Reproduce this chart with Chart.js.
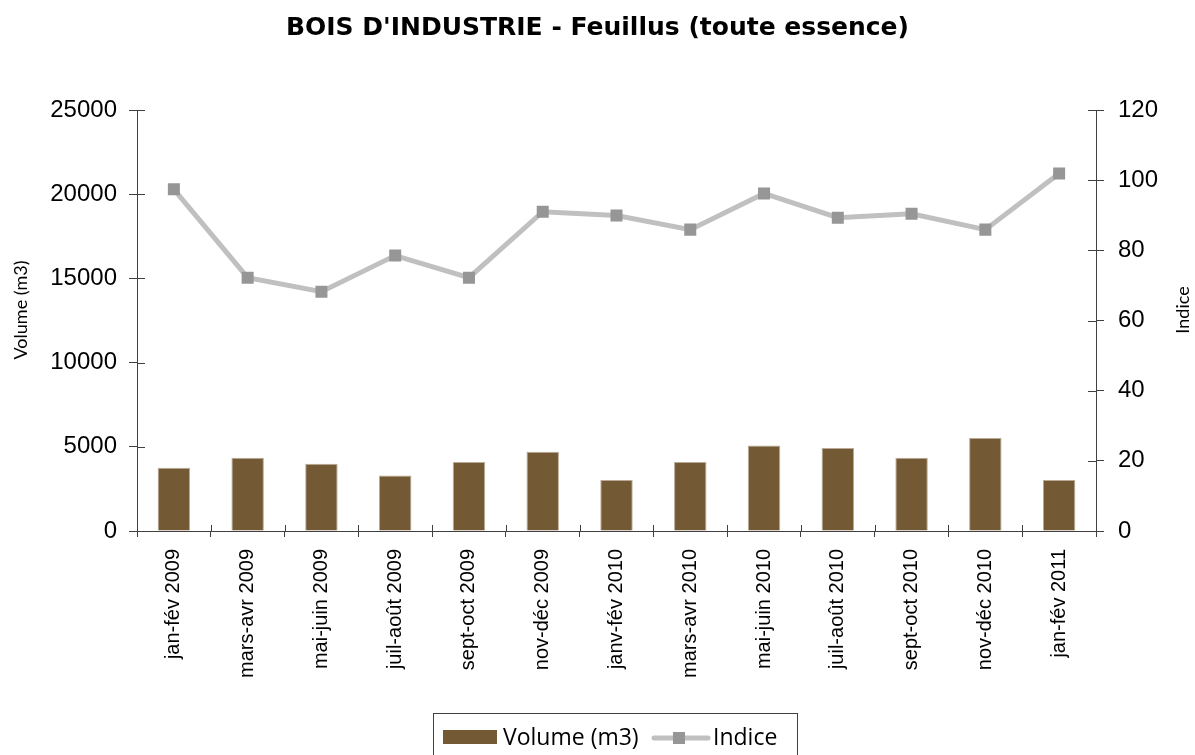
<!DOCTYPE html>
<html lang="fr">
<head>
  <meta charset="UTF-8" />
  <title>BOIS D'INDUSTRIE - Feuillus</title>
  <script src="https://cdn.jsdelivr.net/npm/chart.js"></script>
  <style>
    html, body {
      margin: 0;
      padding: 0;
      background: #ffffff;
    }
    #wrap {
      width: 1195px;
      height: 755px;
      overflow: hidden;
    }
  </style>
</head>
<body>
  <div id="wrap">
    <canvas id="boisChart" width="1195" height="755"></canvas>
  </div>

  <script>
    const periodes = [
      "jan-fév 2009", "mars-avr 2009", "mai-juin 2009", "juil-août 2009",
      "sept-oct 2009", "nov-déc 2009", "janv-fév 2010", "mars-avr 2010",
      "mai-juin 2010", "juil-août 2010", "sept-oct 2010", "nov-déc 2010",
      "jan-fév 2011"
    ];
    const volumes = [3760, 4350, 4000, 3290, 4100, 4710, 3030, 4100, 5070, 4930, 4350, 5520, 3030];
    const indices = [97.4, 72.2, 68.2, 78.5, 72.2, 91.0, 89.9, 85.9, 96.2, 89.3, 90.4, 85.9, 101.9];
    const volumeTicks = [0, 5000, 10000, 15000, 20000, 25000];
    const indiceTicks = [0, 20, 40, 60, 80, 100, 120];

    const axisColor = '#404040';

    // petits traits de graduation qui traversent l'axe (style Excel)
    const innerTicks = {
      id: 'innerTicks',
      afterDraw(chart) {
        const { ctx, chartArea: a, scales } = chart;
        ctx.save();
        ctx.strokeStyle = axisColor;
        ctx.lineWidth = 1;
        ctx.beginPath();
        scales.y.ticks.forEach((t, i) => {
          const y = Math.round(scales.y.getPixelForTick(i)) + 0.5;
          ctx.moveTo(a.left, y);
          ctx.lineTo(a.left + 8, y);
        });
        scales.y1.ticks.forEach((t, i) => {
          const y = Math.round(scales.y1.getPixelForTick(i)) + 0.5;
          ctx.moveTo(a.right - 8, y);
          ctx.lineTo(a.right, y);
        });
        for (let i = 0; i <= periodes.length; i++) {
          const x = Math.round(scales.x.getPixelForValue(i - 0.5)) + 0.5;
          ctx.moveTo(x, a.bottom);
          ctx.lineTo(x, a.bottom - 6);
        }
        ctx.stroke();
        ctx.restore();
      }
    };

    // titres des axes verticaux, lus de bas en haut des deux côtés
    const axisTitles = {
      id: 'axisTitles',
      afterDraw(chart) {
        const ctx = chart.ctx;
        const ty = 310;
        ctx.save();
        ctx.font = '18px Lato';
        ctx.fillStyle = '#000';
        ctx.textAlign = 'center';
        ctx.textBaseline = 'middle';
        [[21, 'Volume (m3)'], [1183, 'Indice']].forEach(([x, txt]) => {
          ctx.save();
          ctx.translate(x, ty);
          ctx.rotate(-Math.PI / 2);
          ctx.fillText(txt, 0, 0);
          ctx.restore();
        });
        ctx.restore();
      }
    };

    // légende encadrée en bas, comme dans Excel
    const boxLegend = {
      id: 'boxLegend',
      afterDraw(chart) {
        const ctx = chart.ctx;
        const ds = chart.data.datasets;
        const bar = ds[1];
        const line = ds[0];
        const cy = 738;
        ctx.save();
        ctx.strokeStyle = axisColor;
        ctx.lineWidth = 1;
        ctx.strokeRect(433.5, 713.5, 364, 60);

        ctx.fillStyle = bar.backgroundColor;
        ctx.fillRect(443, 730, 54, 14);

        ctx.font = '23px "Open Sans"';
        ctx.fillStyle = '#000';
        ctx.textBaseline = 'middle';
        ctx.fillText(bar.label, 503, cy);

        ctx.strokeStyle = line.borderColor;
        ctx.lineWidth = 5;
        ctx.lineCap = 'round';
        ctx.beginPath();
        ctx.moveTo(654, cy);
        ctx.lineTo(708, cy);
        ctx.stroke();
        ctx.fillStyle = line.pointBackgroundColor;
        ctx.fillRect(673, cy - 6, 12, 12);

        ctx.fillStyle = '#000';
        ctx.fillText(line.label, 713, cy);
        ctx.restore();
      }
    };

    const ctx = document.getElementById('boisChart').getContext('2d');
    const chart = new Chart(ctx, {
      data: {
        labels: periodes,
        datasets: [
          {
            type: 'line',
            label: 'Indice',
            data: indices,
            yAxisID: 'y1',
            order: 1,
            borderColor: '#c0c0c0',
            borderWidth: 5,
            tension: 0,
            pointStyle: 'rect',
            pointRadius: 8.5,
            pointBackgroundColor: '#969696',
            pointBorderColor: '#969696',
            pointBorderWidth: 0
          },
          {
            type: 'bar',
            label: 'Volume (m3)',
            data: volumes,
            yAxisID: 'y',
            order: 2,
            backgroundColor: '#735a35',
            borderColor: '#b9ab95',
            borderWidth: { top: 1, left: 1, right: 1, bottom: 0 },
            categoryPercentage: 1,
            barPercentage: 0.44
          }
        ]
      },
      options: {
        responsive: false,
        animation: false,
        layout: { padding: 0 },
        plugins: {
          legend: { display: false },
          tooltip: { enabled: false },
          title: {
            display: true,
            text: "BOIS D'INDUSTRIE - Feuillus (toute essence)",
            color: '#000',
            font: { family: '"DejaVu Sans"', size: 25, weight: 'bold' },
            padding: { top: 13, bottom: 67 }
          }
        },
        scales: {
          x: {
            offset: true,
            grid: {
              offset: true,
              drawOnChartArea: false,
              drawTicks: true,
              tickLength: 6,
              tickColor: axisColor
            },
            border: { color: axisColor, width: 1 },
            ticks: {
              color: '#000',
              font: { family: '"Liberation Sans"', size: 20 },
              maxRotation: 90,
              minRotation: 90,
              padding: 12,
              autoSkip: false
            },
            afterFit: s => { s.height = 224; }
          },
          y: {
            position: 'left',
            min: 0,
            max: 25000,
            afterBuildTicks: s => { s.ticks = volumeTicks.map(v => ({ value: v })); },
            grid: {
              drawOnChartArea: false,
              tickLength: 8,
              tickColor: axisColor
            },
            border: { color: axisColor, width: 1 },
            ticks: {
              color: '#000',
              font: { family: '"Liberation Sans"', size: 24 },
              padding: 12,
              callback: v => String(v)
            },
            afterFit: s => { s.width = 137; }
          },
          y1: {
            position: 'right',
            min: 0,
            max: 120,
            afterBuildTicks: s => { s.ticks = indiceTicks.map(v => ({ value: v })); },
            grid: {
              drawOnChartArea: false,
              tickLength: 8,
              tickColor: axisColor
            },
            border: { color: axisColor, width: 1 },
            ticks: {
              color: '#000',
              font: { family: '"Liberation Sans"', size: 24 },
              padding: 14,
              callback: v => String(v)
            },
            afterFit: s => { s.width = 99; }
          }
        }
      },
      plugins: [innerTicks, axisTitles, boxLegend]
    });
  </script>
</body>
</html>
